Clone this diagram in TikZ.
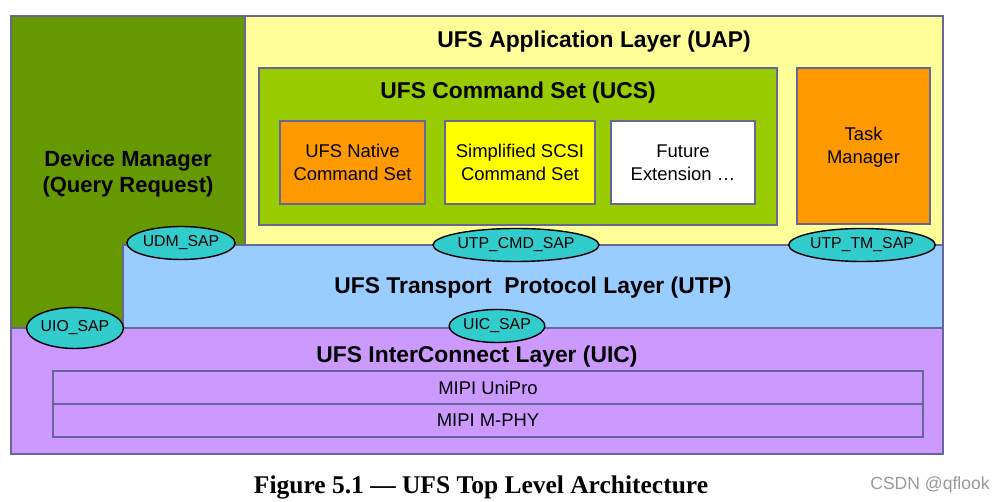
\documentclass[tikz,border=0pt]{standalone}
\usepackage{fontspec}
\setmainfont{Liberation Sans}
\newfontfamily\capfont{Liberation Serif}
\usetikzlibrary{shapes.geometric}
\definecolor{edge}{HTML}{666699}
\definecolor{dmgreen}{HTML}{669900}
\definecolor{uapyellow}{HTML}{FFFF99}
\definecolor{ucsgreen}{HTML}{99CC00}
\definecolor{orangebox}{HTML}{FF9900}
\definecolor{yellowbox}{HTML}{FFFF00}
\definecolor{utpblue}{HTML}{99CCFF}
\definecolor{uicpurple}{HTML}{CC99FF}
\definecolor{sapcyan}{HTML}{33CCCC}
\tikzset{
  region/.style={draw=edge, line width=1.1pt},
  title/.style={font=\fontsize{13}{15}\selectfont\bfseries, align=center},
  body/.style={font=\fontsize{10.5}{13}\selectfont, align=center},
  boxnode/.style={draw=edge, line width=1.1pt, rectangle, inner sep=0pt, font=\fontsize{10.5}{13}\selectfont, align=center},
  sap/.style={ellipse, draw=black, line width=0.8pt, fill=sapcyan, inner sep=0pt, font=\fontsize{9}{11}\selectfont}
}
\begin{document}
\begin{tikzpicture}[x=0.02cm, y=-0.02cm]
\useasboundingbox (0,0) rectangle (994,502);
% regions
\filldraw[region, fill=uapyellow] (245,16) rectangle (943,245);
\filldraw[region, fill=utpblue] (123,245) rectangle (943,328);
\filldraw[region, fill=uicpurple] (11,328) rectangle (943,454);
\filldraw[region, fill=dmgreen] (11,16) -- (245,16) -- (245,245) -- (123,245) -- (123,328) -- (11,328) -- cycle;
% titles
\node[title] (uap) at (594,41.5) {UFS Application Layer (UAP)};
\node[title, font=\fontsize{12.5}{15}\selectfont\bfseries] (dm) at (128,174) {Device Manager\\(Query Request)};
\node[title] (utp) at (533,288) {UFS Transport\ \ Protocol Layer (UTP)};
\node[title] (uic) at (477,357) {UFS InterConnect Layer (UIC)};
% UCS
\node[boxnode, fill=ucsgreen, minimum width=518*0.02cm, minimum height=157*0.02cm] (ucs) at (518,146.5) {};
\node[title] (ucst) at (518,93) {UFS Command Set (UCS)};
\node[boxnode, fill=orangebox, minimum width=145*0.02cm, minimum height=83*0.02cm] (native) at (352.5,162.5) {UFS Native\\Command Set};
\node[boxnode, fill=yellowbox, minimum width=150*0.02cm, minimum height=83*0.02cm] (scsi) at (520,162.5) {Simplified SCSI\\Command Set};
\node[boxnode, fill=white, minimum width=144*0.02cm, minimum height=83*0.02cm] (future) at (683,162.5) {Future\\Extension \dots};
\node[boxnode, fill=orangebox, minimum width=133*0.02cm, minimum height=156*0.02cm] (task) at (863.5,146) {};
\node[body] (taskt) at (863.5,147) {Task\\Manager};
% MIPI
\node[boxnode, fill=uicpurple, minimum width=870*0.02cm, minimum height=33*0.02cm] (unipro) at (488,387.5) {MIPI UniPro};
\node[boxnode, fill=uicpurple, minimum width=870*0.02cm, minimum height=33*0.02cm] (mphy) at (488,420.5) {MIPI M-PHY};
% SAPs
\node[sap, minimum width=99*0.02cm, minimum height=33*0.02cm] (udm) at (181,243) {UDM\_SAP};
\node[sap, minimum width=166*0.02cm, minimum height=33*0.02cm] (cmd) at (516,245) {UTP\_CMD\_SAP};
\node[sap, minimum width=130*0.02cm, minimum height=33*0.02cm] (tm) at (862,245) {UTP\_TM\_SAP};
\node[sap, minimum width=95*0.02cm, minimum height=41*0.02cm] (uio) at (75,328) {UIO\_SAP};
\node[sap, minimum width=94*0.02cm, minimum height=33*0.02cm] (uicsap) at (497,326) {UIC\_SAP};
% caption
\node[font=\capfont\fontsize{14.5}{17}\selectfont\bfseries] (cap) at (481,487) {Figure 5.1 — UFS Top Level Architecture};
\node[font=\fontsize{10}{12}\selectfont, text=black!40] (wm) at (930,485) {CSDN @qflook};
\end{tikzpicture}
\end{document}
